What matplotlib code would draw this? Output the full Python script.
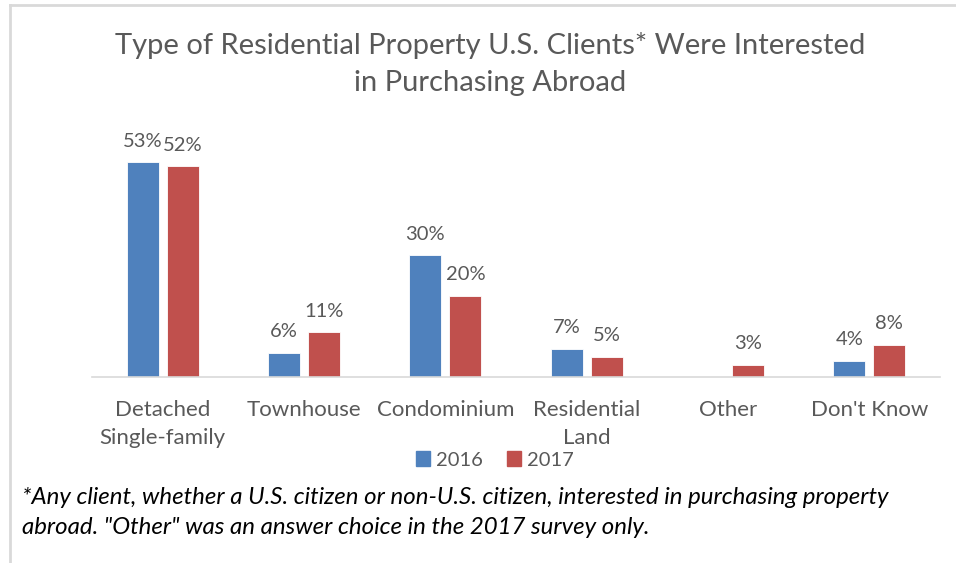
import matplotlib.pyplot as plt
from matplotlib.lines import Line2D
from matplotlib.patches import Patch

plt.rcParams['font.family'] = ['Lato', 'DejaVu Sans']

categories = ['Detached\nSingle-family', 'Townhouse', 'Condominium',
              'Residential\nLand', 'Other', "Don't Know"]
share_2016 = [53, 6, 30, 7, None, 4]
share_2017 = [52, 11, 20, 5, 3, 8]

title = 'Type of Residential Property U.S. Clients* Were Interested\nin Purchasing Abroad'
footnote = ('*Any client, whether a U.S. citizen or non-U.S. citizen, interested in purchasing property\n'
            'abroad. "Other" was an answer choice in the 2017 survey only.')

blue = '#4F81BD'
red = '#C0504D'
grey_text = '#595959'

fig = plt.figure(figsize=(9.56, 5.63), dpi=100)
ax = fig.add_axes([0.0962, 0.3304, 0.887, 0.4316])

width = 0.226
offset = 0.142
x = range(len(categories))

for xs, vals, color in ((-offset, share_2016, blue), (offset, share_2017, red)):
    for i, v in zip(x, vals):
        if v is None:
            continue
        ax.bar(i + xs, v, width=width, color=color, edgecolor='white', linewidth=0.6)
        ax.annotate(f'{v}%', (i + xs, v), xytext=(0, 9), textcoords='offset points',
                    ha='center', va='bottom', fontsize=14.5, color=grey_text)

ax.set_xlim(-0.5, len(categories) - 0.5)
ax.set_ylim(0, 60)
ax.set_xticks(list(x))
ax.set_xticklabels(categories, fontsize=16, color=grey_text, linespacing=1.5)
ax.tick_params(axis='x', length=0, pad=16.5)
ax.set_yticks([])
for side in ('top', 'right', 'left'):
    ax.spines[side].set_visible(False)
ax.spines['bottom'].set_color('#D9D9D9')
ax.spines['bottom'].set_linewidth(1.2)

fig.text(0.5126, 0.886, title, ha='center', va='center', fontsize=21,
         color=grey_text, linespacing=1.5)

handles = [Patch(color=blue, label='2016'), Patch(color=red, label='2017')]
fig.legend(handles=handles, loc='center', bbox_to_anchor=(0.518, 0.183), ncol=2,
           frameon=False, fontsize=14.5, handlelength=0.7, handleheight=0.7,
           handletextpad=0.3, columnspacing=1.2, labelcolor=grey_text)

fig.text(0.023, 0.09, footnote, ha='left', va='center', fontsize=17.3,
         style='italic', color='black', linespacing=1.5)

# thin frame on the left and top edges
fig.add_artist(Line2D([0.0105, 0.0105], [0, 0.991], color='#D9D9D9', linewidth=2,
                      transform=fig.transFigure))
fig.add_artist(Line2D([0.0105, 1], [0.991, 0.991], color='#D9D9D9', linewidth=2,
                      transform=fig.transFigure))

fig.savefig('out.png', dpi=100)
